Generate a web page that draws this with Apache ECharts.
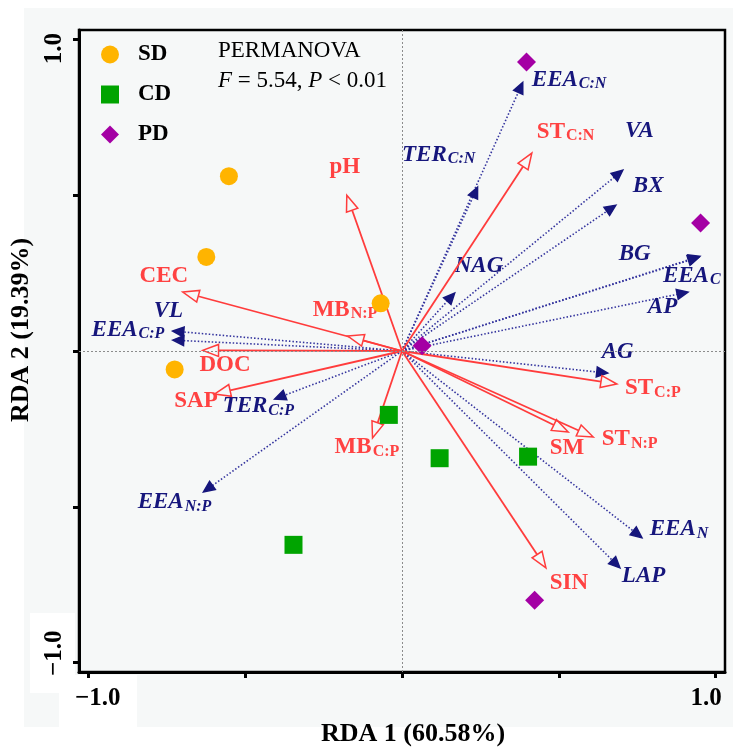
<!DOCTYPE html>
<html>
<head>
<meta charset="utf-8">
<script src="https://cdn.jsdelivr.net/npm/echarts@6/dist/echarts.min.js"></script>
<style>
  html, body { margin: 0; padding: 0; background: #fff; }
  #rda { width: 733px; height: 747px; }
</style>
</head>
<body>
<div id="rda"></div>
<script>
const FONT = '"Liberation Serif", "Times New Roman", serif';
const RED = '#ff3c3c';
const NAVY = '#16167c';
const PANEL = '#f6f8f8';

// sample scores (RDA1, RDA2)
const groups = ['SD', 'CD', 'PD'];
const sdScores = [[-0.552, 0.561], [-0.624, 0.302], [-0.068, 0.153], [-0.725, -0.059]];
const cdScores = [[-0.042, -0.205], [0.120, -0.344], [0.402, -0.339], [-0.346, -0.622]];
const pdScores = [[0.397, 0.927], [0.952, 0.411], [0.064, 0.017], [0.423, -0.800]];

// soil properties (red, solid arrows)
const envNames = ['pH', 'CEC', 'MB_N:P', 'DOC', 'SAP', 'MB_C:P', 'ST_C:N', 'ST_C:P', 'SM', 'ST_N:P', 'SIN'];
const envLoadings = [
  [-0.176, 0.500], [-0.699, 0.189], [-0.173, 0.048], [-0.636, 0.002], [-0.598, -0.138],
  [-0.094, -0.279], [0.414, 0.635], [0.685, -0.106], [0.530, -0.260], [0.610, -0.276], [0.459, -0.696]
];
const envLabelAt = [
  [-0.231, 0.587], [-0.837, 0.240], [-0.285, 0.131], [-0.646, -0.048], [-0.726, -0.163],
  [-0.215, -0.311], [0.430, 0.702], [0.711, -0.122], [0.471, -0.314], [0.637, -0.285], [0.471, -0.747]
];

// enzyme activities / stoichiometry (navy, dotted arrows)
const enzNames = ['EEA_C:N', 'TER_C:N', 'VA', 'BX', 'NAG', 'BG', 'EEA_C', 'AP', 'AG', 'VL', 'EEA_C:P', 'TER_C:P', 'EEA_N:P', 'EEA_N', 'LAP'];
const enzLoadings = [
  [0.385, 0.862], [0.241, 0.526], [0.704, 0.580], [0.682, 0.468], [0.168, 0.186],
  [0.950, 0.304], [0.947, 0.301], [0.912, 0.189], [0.656, -0.071], [-0.731, 0.064],
  [-0.731, 0.035], [-0.406, -0.154], [-0.633, -0.452], [0.765, -0.599], [0.695, -0.696]
];
const enzLabelAt = [
  [0.414, 0.869], [0.000, 0.628], [0.711, 0.705], [0.736, 0.529], [0.168, 0.272],
  [0.691, 0.311], [0.832, 0.240], [0.784, 0.138], [0.637, -0.006], [-0.792, 0.125],
  [-0.990, 0.067], [-0.572, -0.179], [-0.843, -0.487], [0.790, -0.574], [0.701, -0.724]
];

const tickValues = [-1, -0.5, 0, 0.5, 1];

function richLabel(name) {
  const [main, sub] = name.split('_');
  return sub ? `{m|${main}}{s|${sub}}` : `{m|${main}}`;
}

function makeRich(color, italic) {
  const style = italic ? 'italic' : 'normal';
  return {
    m: { fontFamily: FONT, fontSize: 23, fontWeight: 'bold', fontStyle: style, fill: color, lineHeight: 24, verticalAlign: 'top' },
    s: { fontFamily: FONT, fontSize: 16, fontWeight: 'bold', fontStyle: style, fill: color, lineHeight: 16, padding: [11, 0, 0, 1], verticalAlign: 'bottom' }
  };
}

const envLook = {
  line: RED, width: 1.8, dash: null, headLen: 16, headHalf: 6,
  headFill: PANEL, headStroke: RED, rich: makeRich('#ff4242', false)
};
const enzLook = {
  line: '#34349e', width: 1.6, dash: [1.5, 2], headLen: 11, headHalf: 5,
  headFill: NAVY, headStroke: NAVY, rich: makeRich(NAVY, true)
};

function makeArrows(names, labelAt, look) {
  return function (params, api) {
    const i = params.dataIndex;
    const o = api.coord([0, 0]);
    const t = api.coord([api.value(0), api.value(1)]);
    const dx = t[0] - o[0], dy = t[1] - o[1];
    const len = Math.hypot(dx, dy);
    const ux = dx / len, uy = dy / len;
    const bx = t[0] - ux * look.headLen, by = t[1] - uy * look.headLen;
    const nx = -uy * look.headHalf, ny = ux * look.headHalf;
    const lab = api.coord(labelAt[i]);
    return {
      type: 'group',
      children: [
        {
          type: 'line',
          shape: { x1: o[0], y1: o[1], x2: bx, y2: by },
          style: { stroke: look.line, lineWidth: look.width, lineDash: look.dash }
        },
        {
          type: 'polygon',
          shape: { points: [[t[0], t[1]], [bx + nx, by + ny], [bx - nx, by - ny]] },
          style: { fill: look.headFill, stroke: look.headStroke, lineWidth: 1.5 }
        },
        {
          type: 'text',
          style: {
            text: richLabel(names[i]), rich: look.rich, x: lab[0], y: lab[1] - 12,
            align: 'left', verticalAlign: 'top', fontFamily: FONT
          }
        }
      ]
    };
  };
}

const axisNameStyle = { fontFamily: FONT, fontSize: 26, fontWeight: 'bold', color: '#000' };
const tickLabelStyle = {
  fontFamily: FONT, fontSize: 25, fontWeight: 'bold', color: '#000',
  customValues: [-0.97, 0.97],
  formatter: v => (v < 0 ? '\u22121.0' : '1.0')
};

const chart = echarts.init(document.getElementById('rda'));

chart.setOption({
  animation: false,
  backgroundColor: '#fff',
  graphic: [
    { type: 'rect', z: -100, shape: { x: 24, y: 8, width: 709, height: 719 }, style: { fill: PANEL } },
    { type: 'rect', z: -90, shape: { x: 30, y: 613, width: 45, height: 80 }, style: { fill: '#fff' } },
    { type: 'rect', z: -90, shape: { x: 59, y: 675, width: 78, height: 52 }, style: { fill: '#fff' } },
    {
      type: 'text', left: 218, top: 39, z: 100,
      style: { text: 'PERMANOVA', fontFamily: FONT, fontSize: 23, fill: '#000' }
    },
    {
      type: 'text', left: 218, top: 69, z: 100,
      style: {
        text: '{i|F} = 5.54, {i|P} < 0.01', fontFamily: FONT, fontSize: 23, fill: '#000',
        rich: { i: { fontFamily: FONT, fontSize: 23, fontStyle: 'italic', fill: '#000' } }
      }
    }
  ],
  grid: {
    left: 79, right: 8, top: 30, bottom: 75,
    outerBoundsMode: 'none', containLabel: false,
    show: true, borderColor: '#000', borderWidth: 2.5, backgroundColor: 'transparent'
  },
  legend: {
    orient: 'vertical', left: 96, top: 38,
    itemWidth: 18, itemHeight: 18, itemGap: 17,
    data: groups,
    textStyle: { fontFamily: FONT, fontSize: 23, fontWeight: 'bold', color: '#000', padding: [0, 0, 0, 14], lineHeight: 18 }
  },
  xAxis: {
    type: 'value', min: -1.03, max: 1.03,
    name: 'RDA 1 (60.58%)', nameLocation: 'middle', nameGap: 49,
    nameTextStyle: Object.assign({ padding: [0, 0, 0, 22] }, axisNameStyle),
    axisLine: { show: true, onZero: false, lineStyle: { color: '#000', width: 3 } },
    axisTick: { show: true, customValues: tickValues, length: 6, lineStyle: { color: '#000', width: 3 } },
    axisLabel: Object.assign({ margin: 14 }, tickLabelStyle),
    splitLine: { show: false }
  },
  yAxis: {
    type: 'value', min: -1.03, max: 1.03,
    name: 'RDA 2 (19.39%)', nameLocation: 'middle', nameGap: 29,
    nameTextStyle: Object.assign({ padding: [0, 0, 0, 42] }, axisNameStyle),
    axisLine: { show: true, onZero: false, lineStyle: { color: '#000', width: 3 } },
    axisTick: { show: true, customValues: tickValues, length: 6, lineStyle: { color: '#000', width: 3 } },
    axisLabel: Object.assign({ margin: 12, rotate: 90 }, tickLabelStyle),
    splitLine: { show: false }
  },
  series: [
    {
      type: 'line', data: [], z: 1, silent: true,
      markLine: {
        silent: true, symbol: ['none', 'none'], label: { show: false },
        lineStyle: { type: [2, 2], color: '#8c8c8c', width: 1 },
        data: [{ xAxis: 0 }, { yAxis: 0 }]
      }
    },
    { type: 'custom', z: 2, silent: true, data: enzLoadings, renderItem: makeArrows(enzNames, enzLabelAt, enzLook) },
    { type: 'custom', z: 2, silent: true, data: envLoadings, renderItem: makeArrows(envNames, envLabelAt, envLook) },
    { name: 'SD', type: 'scatter', z: 3, symbol: 'circle', symbolSize: 18, itemStyle: { color: '#ffb400', opacity: 1 }, data: sdScores },
    { name: 'CD', type: 'scatter', z: 3, symbol: 'rect', symbolSize: 18, itemStyle: { color: '#00a400', opacity: 1 }, data: cdScores },
    { name: 'PD', type: 'scatter', z: 3, symbol: 'diamond', symbolSize: 19, itemStyle: { color: '#a400a4', opacity: 1 }, data: pdScores }
  ]
});
</script>
</body>
</html>
